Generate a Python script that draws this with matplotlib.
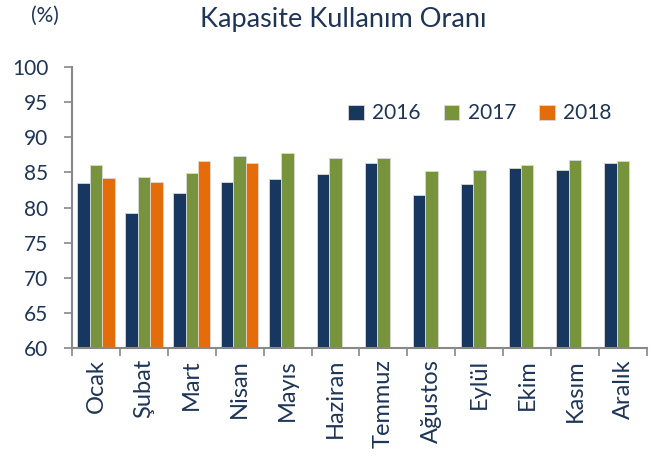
import matplotlib
matplotlib.use("Agg")
import matplotlib.pyplot as plt
import numpy as np

months = ["Ocak", "Şubat", "Mart", "Nisan", "Mayıs", "Haziran", "Temmuz",
          "Ağustos", "Eylül", "Ekim", "Kasım", "Aralık"]
v2016 = [83.5, 79.2, 82.1, 83.7, 84.0, 84.7, 86.3, 81.8, 83.3, 85.6, 85.4, 86.3]
v2017 = [86.1, 84.4, 84.9, 87.3, 87.7, 87.1, 87.1, 85.2, 85.4, 86.1, 86.8, 86.6]
v2018 = [84.2, 83.7, 86.6, 86.3]
series_names = ["2016", "2017", "2018"]
colors = ["#17375E", "#77933C", "#E46C0A"]
text_col = "#1F3556"

plt.rcParams['font.family'] = ['Lato', 'DejaVu Sans']

fig = plt.figure(figsize=(6.62, 4.59), dpi=100)
ax = fig.add_axes([72/662, 1-348/459, (647-72)/662, (348-67)/459])

x = np.arange(len(months))
w = 0.26
for i, (vals, name, c) in enumerate(zip([v2016, v2017, v2018], series_names, colors)):
    xs = x[:len(vals)] + (i - 1) * w
    ax.bar(xs, vals, width=w, color=c, edgecolor="#D9D9D9", linewidth=0.6,
           label=name, zorder=2)

ax.set_ylim(60, 100)
ax.set_xlim(-0.5, len(months) - 0.5)
ax.set_yticks(np.arange(60, 101, 5))
ax.set_xticks(np.arange(-0.5, len(months), 1.0))
ax.set_xticklabels([])
ax.set_xticks(x, minor=True)
ax.set_xticklabels(months, minor=True, rotation=90, fontsize=17, color=text_col)
ax.tick_params(axis='x', which='minor', length=0, pad=8)
ax.tick_params(axis='x', which='major', length=6, width=1.2, color="#888888", direction='out')
ax.tick_params(axis='y', length=6, width=1.2, color="#888888", labelsize=15,
               labelcolor=text_col, pad=11)
for s in ["top", "right"]:
    ax.spines[s].set_visible(False)
for s in ["left", "bottom"]:
    ax.spines[s].set_color("#888888")
    ax.spines[s].set_linewidth(1.5)

leg = ax.legend(loc="upper left", bbox_to_anchor=(0.448, 0.937), ncol=3, frameon=False,
                fontsize=15, handlelength=0.75, handleheight=0.75, handletextpad=0.4,
                columnspacing=1.1)
for t in leg.get_texts():
    t.set_color(text_col)

fig.text(343/662, 1-19/459, "Kapasite Kullanım Oranı", ha="center", va="center",
         fontsize=19.5, color=text_col)
fig.text(31/662, 1-16/459, "(%)", ha="left", va="center", fontsize=15, color=text_col)

fig.savefig("out.png", dpi=100)
